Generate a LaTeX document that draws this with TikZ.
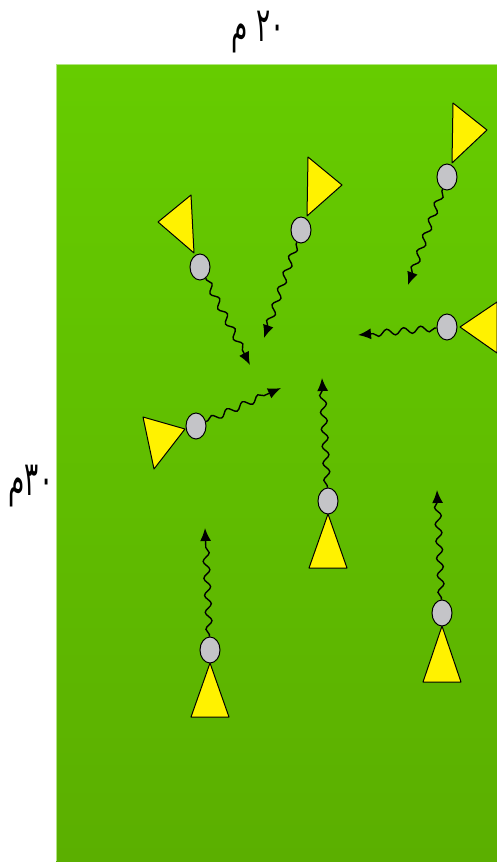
\documentclass[tikz,border=0pt]{standalone}
\usepackage{fontspec}
\newfontfamily\arabicfont[Script=Arabic]{DejaVu Sans}
\TeXXeTstate=1
\usetikzlibrary{shapes.geometric,decorations.pathmorphing,arrows.meta}
\definecolor{fieldtop}{HTML}{66CC00}
\definecolor{fieldbot}{HTML}{5BAF00}
\definecolor{headgray}{HTML}{C4C4C8}
\begin{document}
\begin{tikzpicture}[x=1pt,y=-1pt,
  head/.style={ellipse, draw=black, line width=1pt, fill=headgray, minimum width=20pt, minimum height=26pt, inner sep=0pt},
  body/.style={draw=black, line width=1pt, fill=yellow, line join=round},
  run/.style={draw=black, line width=1.4pt, decorate, decoration={snake, amplitude=3.2pt, segment length=17pt, pre length=2pt, post length=11pt}, -{Latex[length=13pt,width=11pt]}},
  lbl/.style={font=\arabicfont\fontsize{33}{36}\selectfont, inner sep=0pt, xscale=0.8, yscale=1.45}]
\useasboundingbox (0,0) rectangle (497,863);
\clip (0,0) rectangle (497,863);
% field
\fill[top color=fieldtop, bottom color=fieldbot] (56,64) rectangle (500,861);
\draw[color=fieldtop!50!white, line width=1pt] (56,861) -- (56,64) -- (500,64);
% labels
\node[lbl] (top) at (258,32) {\beginR ٢٠ م\endR};
\node[lbl] (left) at (31,486) {\beginR ٣٠م\endR};
% player 1
\draw[body] (452,163) -- (453,103) -- (487,130) -- cycle;
\node[head] (h1) at (447,177) {};
\coordinate (t1) at (408,285);
% player 2
\draw[body] (307,216) -- (308,157) -- (342,185) -- cycle;
\node[head] (h2) at (301,230) {};
\coordinate (t2) at (264,338);
% player 3
\draw[body] (194,253) -- (191,195) -- (158,222) -- cycle;
\node[head] (h3) at (200,267) {};
\coordinate (t3) at (250,365);
% player 4
\draw[body] (460,327) -- (497,302) -- (497,353) -- cycle;
\node[head] (h4) at (447,327) {};
\coordinate (t4) at (358,335);
% player 5
\draw[body] (185,429) -- (143,417) -- (154,469) -- cycle;
\node[head] (h5) at (196,426) {};
\coordinate (t5) at (281,388);
% player 6
\draw[body] (328,514) -- (309,568) -- (347,568) -- cycle;
\node[head] (h6) at (328,501) {};
\coordinate (t6) at (322,378);
% player 7
\draw[body] (210,663) -- (191,717) -- (229,717) -- cycle;
\node[head] (h7) at (210,650) {};
\coordinate (t7) at (205,528);
% player 8
\draw[body] (442,626) -- (423,682) -- (461,682) -- cycle;
\node[head] (h8) at (442,613) {};
\coordinate (t8) at (437,490);
% runs
\foreach \i in {1,...,8} {\draw[run] (h\i) -- (t\i);}
\end{tikzpicture}
\end{document}
